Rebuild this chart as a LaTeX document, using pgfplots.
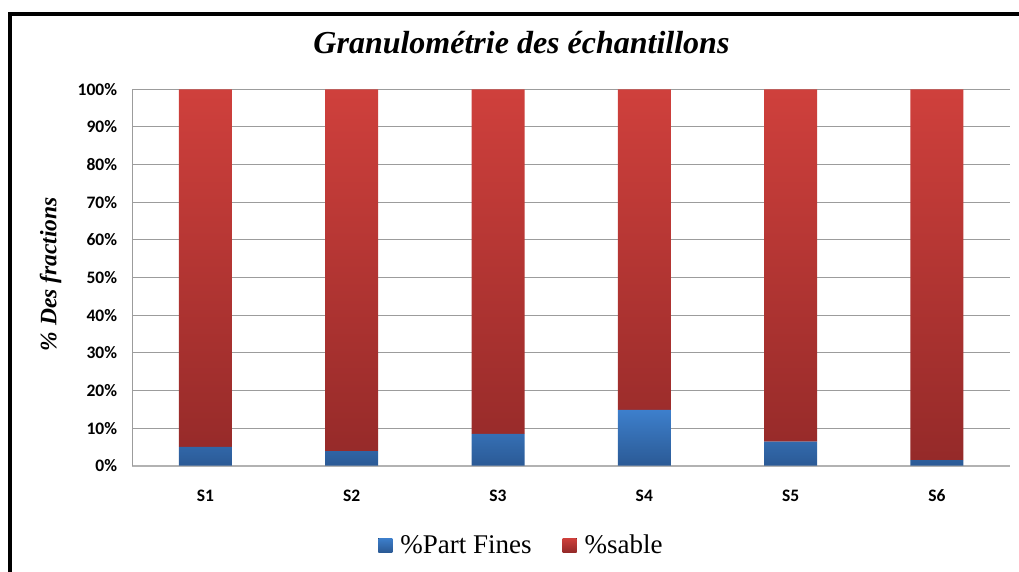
\documentclass[border=0pt]{standalone}
\usepackage{fontspec}
\usepackage{pgfplots}
\pgfplotsset{compat=1.18}
\setmainfont{Liberation Serif}
\newfontfamily\carlito{Carlito}
\definecolor{redtop}{HTML}{CF403C}
\definecolor{redbot}{HTML}{952A29}
\definecolor{bluetop}{HTML}{3D7FCC}
\definecolor{bluebot}{HTML}{2B5A95}
\definecolor{gridgray}{HTML}{9C9C9C}
\begin{document}
\begin{tikzpicture}
\path[use as bounding box] (0pt,0pt) rectangle (1019pt,571pt);
\draw[line width=4pt] (10pt,-5pt) -- (10pt,557pt) -- (1025pt,557pt);
\begin{axis}[
  at={(132.3pt,105.3pt)}, anchor=south west,
  scale only axis, width=877.7pt, height=376.4pt,
  ymin=0, ymax=100, xmin=-0.5, xmax=5.5,
  ybar stacked, bar width=53pt,
  axis lines*=left,
  axis line style={draw=gridgray, line width=1pt},
  x axis line style={draw=gray!60, line width=1.6pt},
  ytick={0,10,...,100},
  yticklabels={0\%,10\%,20\%,30\%,40\%,50\%,60\%,70\%,80\%,90\%,100\%},
  xtick={0,...,5},
  xticklabels={S1,S2,S3,S4,S5,S6},
  major tick length=0pt,
  ymajorgrids, grid style={draw=gridgray, line width=1pt},
  tick label style={font=\carlito\bfseries\fontsize{17.5}{17.5}\selectfont},
  yticklabel style={anchor=east, inner sep=0pt, xshift=-15pt},
  xticklabel style={anchor=north, inner sep=0pt, yshift=-24pt},
  title={Granulométrie des échantillons},
  title style={at={(axis description cs:0.4434,1.0792)}, anchor=base,
    font=\fontsize{32}{32}\selectfont\bfseries\itshape},
  ylabel={\% Des fractions},
  ylabel style={at={(axis description cs:-0.0930,0.509)}, anchor=center,
    font=\fontsize{23.5}{23.5}\selectfont\bfseries\itshape},
  legend columns=2,
  legend style={at={(axis description cs:0.4423,-0.2107)}, anchor=center,
    draw=none, fill=none, font=\fontsize{27}{27}\selectfont,
    column sep=8pt,
    /tikz/every even column/.append style={column sep=31pt},
    nodes={inner sep=0pt}},
  legend cell align=left,
]
\addplot[draw=none, top color=bluetop, bottom color=bluebot,
  legend image code/.code={\fill[top color=bluetop, bottom color=bluebot] (0pt,-7pt) rectangle (14pt,7pt);}]
  coordinates {(0,5.0) (1,3.9) (2,8.45) (3,14.8) (4,6.4) (5,1.5)};
\addlegendentry{\%Part Fines}
\addplot[draw=none, top color=redtop, bottom color=redbot,
  legend image code/.code={\fill[top color=redtop, bottom color=redbot] (0pt,-7pt) rectangle (14pt,7pt);}]
  coordinates {(0,95.0) (1,96.1) (2,91.55) (3,85.2) (4,93.6) (5,98.5)};
\addlegendentry{\%sable}
\end{axis}
\end{tikzpicture}
\end{document}
